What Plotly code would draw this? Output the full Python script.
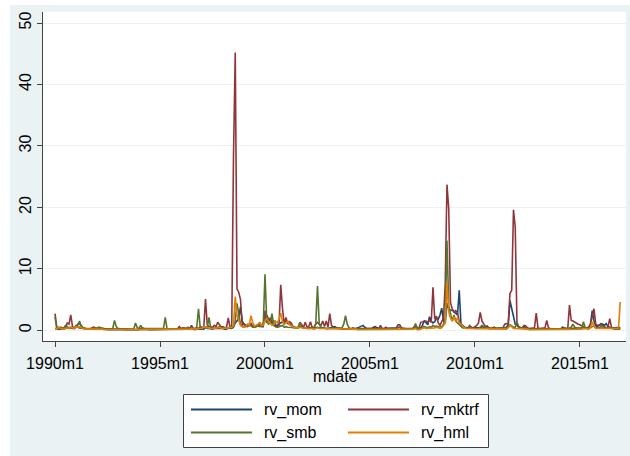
import plotly.graph_objects as go

# Stata monthly dates (%tm): 1990m1 = 360 ... 2016m12 = 683
mdate = list(range(360, 684))

tick_vals = [360, 420, 480, 540, 600, 660]
tick_text = ["1990m1", "1995m1", "2000m1", "2005m1", "2010m1", "2015m1"]
y_ticks = [0, 10, 20, 30, 40, 50]

rv_mom = [
    0.3, 0.2, 0.2, 0.2, 0.2, 0.2, 0.3, 0.4, 0.3, 0.4, 0.3, 0.3,  # 1990
    0.5, 1.0, 1.1, 0.8, 0.4, 0.3, 0.2, 0.2, 0.2, 0.2, 0.2, 0.3,  # 1991
    0.3, 0.2, 0.2, 0.2, 0.2, 0.2, 0.1, 0.1, 0.1, 0.1, 0.1, 0.1,  # 1992
    0.1, 0.1, 0.2, 0.1, 0.1, 0.1, 0.1, 0.1, 0.1, 0.1, 0.1, 0.1,  # 1993
    0.1, 0.1, 0.1, 0.1, 0.1, 0.1, 0.1, 0.1, 0.1, 0.1, 0.1, 0.1,  # 1994
    0.1, 0.1, 0.1, 0.1, 0.1, 0.1, 0.1, 0.1, 0.1, 0.1, 0.1, 0.1,  # 1995
    0.2, 0.1, 0.2, 0.2, 0.2, 0.2, 0.3, 0.2, 0.1, 0.2, 0.2, 0.2,  # 1996
    0.2, 0.2, 0.5, 0.3, 0.3, 0.2, 0.2, 0.3, 0.3, 0.4, 0.3, 0.3,  # 1997
    0.3, 0.2, 0.2, 0.4, 0.3, 0.3, 0.5, 1.2, 1.5, 2.0, 3.8, 1.5,  # 1998
    1.0, 0.8, 0.7, 0.8, 0.9, 0.7, 0.5, 0.6, 0.7, 0.9, 0.8, 1.2,  # 1999
    1.5, 2.5, 1.8, 1.5, 1.2, 1.6, 0.8, 0.8, 1.0, 1.2, 1.4, 1.0,  # 2000
    1.5, 1.2, 1.0, 1.0, 0.6, 0.5, 0.5, 0.4, 0.6, 0.5, 0.4, 0.4,  # 2001
    0.4, 0.4, 0.3, 0.3, 0.3, 0.4, 0.5, 0.4, 0.3, 0.4, 0.3, 0.3,  # 2002
    0.3, 0.4, 0.4, 0.5, 0.6, 0.4, 0.3, 0.3, 0.2, 0.2, 0.2, 0.2,  # 2003
    0.2, 0.2, 0.3, 0.3, 0.3, 0.4, 0.5, 0.6, 0.8, 0.5, 0.3, 0.3,  # 2004
    0.3, 0.3, 0.5, 0.6, 0.4, 0.3, 0.3, 0.3, 0.3, 0.4, 0.3, 0.3,  # 2005
    0.3, 0.4, 0.3, 0.4, 0.5, 0.5, 0.3, 0.3, 0.2, 0.2, 0.2, 0.2,  # 2006
    0.2, 0.3, 0.4, 0.3, 0.3, 0.4, 0.8, 1.6, 1.2, 0.9, 2.2, 1.5,  # 2007
    1.2, 1.4, 2.0, 1.8, 2.5, 3.6, 1.5, 1.2, 4.4, 3.5, 3.2, 3.3,  # 2008
    3.0, 2.8, 2.5, 6.5, 1.0, 0.8, 0.5, 0.4, 0.4, 0.4, 0.3, 0.3,  # 2009
    0.3, 0.3, 0.4, 0.4, 0.6, 0.5, 0.4, 0.3, 0.3, 0.3, 0.4, 0.3,  # 2010
    0.3, 0.3, 0.3, 0.3, 0.3, 0.4, 0.5, 0.9, 4.8, 3.6, 2.0, 1.0,  # 2011
    0.8, 0.5, 0.4, 0.4, 0.6, 0.4, 0.3, 0.2, 0.2, 0.2, 0.2, 0.2,  # 2012
    0.2, 0.2, 0.2, 0.2, 0.3, 0.3, 0.2, 0.3, 0.2, 0.2, 0.2, 0.2,  # 2013
    0.2, 0.2, 0.5, 0.4, 0.3, 0.2, 0.3, 0.3, 0.3, 0.4, 0.3, 0.3,  # 2014
    0.3, 0.3, 0.3, 0.3, 0.3, 0.4, 1.0, 3.2, 1.5, 0.8, 0.6, 0.8,  # 2015
    1.1, 1.0, 0.8, 1.1, 0.6, 0.5, 0.4, 0.3, 0.3, 0.4, 0.5, 0.3,  # 2016
]

rv_mktrf = [
    2.7, 0.6, 0.3, 0.5, 0.4, 0.3, 0.4, 1.2, 1.0, 2.5, 0.6, 0.4,  # 1990
    0.8, 0.5, 0.4, 0.3, 0.3, 0.3, 0.2, 0.2, 0.2, 0.3, 0.5, 0.4,  # 1991
    0.3, 0.2, 0.2, 0.3, 0.2, 0.2, 0.2, 0.2, 0.2, 0.2, 0.2, 0.1,  # 1992
    0.2, 0.3, 0.2, 0.2, 0.1, 0.1, 0.1, 0.1, 0.1, 0.1, 0.1, 0.1,  # 1993
    0.1, 0.3, 0.4, 0.3, 0.2, 0.2, 0.1, 0.1, 0.1, 0.2, 0.2, 0.1,  # 1994
    0.1, 0.1, 0.1, 0.1, 0.1, 0.1, 0.2, 0.1, 0.1, 0.2, 0.2, 0.6,  # 1995
    0.3, 0.4, 0.4, 0.3, 0.3, 0.3, 0.8, 0.3, 0.2, 0.4, 0.3, 0.6,  # 1996
    0.5, 0.4, 5.1, 0.9, 0.6, 0.5, 0.5, 0.8, 0.6, 1.3, 0.8, 0.5,  # 1997
    0.6, 0.4, 0.5, 2.0, 0.5, 0.7, 28.5, 45.2, 6.7, 6.2, 5.0, 0.8,  # 1998
    1.0, 0.7, 0.6, 0.9, 1.1, 0.6, 0.5, 0.8, 0.8, 1.3, 0.6, 0.6,  # 1999
    3.2, 1.2, 1.6, 2.0, 1.3, 0.8, 0.6, 0.5, 0.8, 7.4, 3.5, 1.0,  # 2000
    2.1, 1.0, 1.4, 1.2, 0.5, 0.4, 0.4, 0.5, 1.3, 0.9, 0.5, 1.3,  # 2001
    0.5, 0.6, 1.4, 0.4, 0.5, 1.0, 1.3, 1.0, 0.8, 1.5, 0.6, 1.5,  # 2002
    0.5, 2.7, 0.8, 0.5, 0.3, 0.3, 0.3, 0.2, 0.3, 0.2, 0.2, 0.2,  # 2003
    0.2, 0.2, 0.4, 0.3, 0.3, 0.2, 0.3, 0.3, 0.2, 0.2, 0.2, 0.2,  # 2004
    0.2, 0.2, 0.3, 0.4, 0.3, 0.2, 0.8, 0.2, 0.2, 0.5, 0.3, 0.2,  # 2005
    0.2, 0.2, 0.2, 0.3, 0.9, 0.9, 0.4, 0.3, 0.2, 0.2, 0.2, 0.2,  # 2006
    0.2, 0.5, 0.8, 0.3, 0.3, 1.3, 1.4, 1.4, 1.5, 1.3, 1.6, 1.3,  # 2007
    7.0, 1.8, 2.3, 1.2, 0.8, 1.4, 2.0, 7.5, 23.7, 19.8, 4.5, 3.5,  # 2008
    3.0, 3.2, 2.8, 1.5, 1.0, 0.6, 0.5, 0.4, 0.4, 0.8, 0.5, 0.4,  # 2009
    0.6, 0.8, 1.2, 2.9, 1.5, 1.0, 0.6, 0.7, 0.4, 0.3, 0.4, 0.5,  # 2010
    0.3, 0.3, 0.4, 0.3, 0.4, 1.0, 1.1, 1.0, 6.0, 6.5, 19.6, 16.8,  # 2011
    1.0, 0.6, 0.4, 0.4, 0.8, 0.7, 0.4, 0.3, 0.3, 0.3, 0.4, 2.8,  # 2012
    0.4, 0.3, 0.3, 0.3, 0.4, 1.6, 0.4, 0.3, 0.3, 0.3, 0.2, 0.2,  # 2013
    0.3, 0.3, 0.3, 0.3, 0.2, 0.2, 4.1, 1.6, 1.5, 1.3, 1.1, 1.0,  # 2014
    0.9, 0.7, 0.5, 0.4, 0.4, 0.5, 1.0, 2.5, 3.5, 1.0, 0.8, 0.8,  # 2015
    0.9, 0.8, 0.6, 0.4, 0.5, 1.9, 0.5, 0.3, 0.4, 0.4, 0.4, 0.3,  # 2016
]

rv_smb = [
    2.2, 0.3, 0.3, 0.3, 0.4, 0.4, 0.8, 0.6, 0.4, 0.5, 0.3, 0.3,  # 1990
    0.6, 0.8, 1.5, 0.6, 0.4, 0.3, 0.3, 0.3, 0.3, 0.3, 0.3, 0.3,  # 1991
    0.3, 0.5, 0.4, 0.3, 0.2, 0.2, 0.2, 0.2, 0.2, 0.3, 1.6, 0.6,  # 1992
    0.3, 0.3, 0.3, 0.2, 0.2, 0.2, 0.2, 0.2, 0.2, 0.2, 1.2, 0.4,  # 1993
    0.3, 0.8, 0.3, 0.3, 0.2, 0.2, 0.2, 0.2, 0.2, 0.2, 0.2, 0.2,  # 1994
    0.2, 0.2, 0.3, 2.1, 0.3, 0.2, 0.2, 0.2, 0.2, 0.2, 0.2, 0.3,  # 1995
    0.3, 0.2, 0.3, 0.3, 0.5, 0.3, 0.4, 0.3, 0.3, 0.5, 3.5, 0.4,  # 1996
    0.3, 0.4, 0.5, 0.4, 2.1, 0.4, 0.3, 0.4, 0.3, 0.5, 0.6, 0.4,  # 1997
    0.4, 0.3, 0.3, 0.4, 0.3, 0.4, 0.6, 1.5, 4.4, 2.5, 1.0, 0.6,  # 1998
    0.5, 0.6, 0.8, 1.0, 0.7, 0.5, 0.5, 0.6, 0.7, 0.6, 0.7, 0.8,  # 1999
    9.1, 1.5, 1.0, 1.2, 2.7, 0.8, 0.6, 0.5, 0.6, 0.7, 0.8, 0.5,  # 2000
    0.6, 0.5, 0.5, 0.4, 0.4, 0.4, 0.4, 0.4, 1.3, 0.5, 0.4, 0.3,  # 2001
    0.3, 0.3, 0.3, 0.4, 0.4, 1.0, 7.2, 1.0, 0.5, 0.4, 0.3, 0.3,  # 2002
    0.3, 0.3, 0.3, 0.3, 0.3, 0.3, 0.3, 0.3, 0.4, 1.0, 2.4, 1.0,  # 2003
    0.4, 0.3, 0.3, 0.3, 0.2, 0.2, 0.3, 0.3, 0.2, 0.2, 0.2, 0.2,  # 2004
    0.2, 0.2, 0.3, 0.3, 0.3, 0.2, 0.2, 0.2, 0.2, 0.3, 0.2, 0.2,  # 2005
    0.2, 0.2, 0.2, 0.2, 0.4, 0.5, 0.3, 0.2, 0.2, 0.2, 0.2, 0.2,  # 2006
    0.2, 0.3, 1.1, 0.4, 0.3, 0.3, 0.5, 0.6, 0.5, 0.4, 0.6, 0.5,  # 2007
    0.8, 0.6, 0.7, 0.6, 0.5, 0.6, 1.0, 2.0, 14.6, 4.0, 2.5, 1.5,  # 2008
    2.5, 1.5, 1.2, 0.9, 0.6, 0.4, 0.4, 0.3, 0.4, 0.5, 0.4, 0.3,  # 2009
    0.3, 0.3, 0.3, 0.5, 0.8, 0.6, 0.4, 0.4, 0.3, 0.3, 0.3, 0.3,  # 2010
    0.3, 0.3, 0.3, 0.3, 0.3, 0.4, 0.4, 0.6, 0.9, 0.7, 0.5, 0.5,  # 2011
    1.3, 0.6, 0.4, 0.3, 0.4, 0.3, 0.3, 0.2, 0.2, 0.2, 0.2, 0.2,  # 2012
    0.2, 0.2, 0.2, 0.2, 0.2, 0.3, 0.2, 0.2, 0.2, 0.2, 0.2, 0.2,  # 2013
    0.2, 0.2, 0.3, 0.4, 0.3, 0.2, 0.4, 0.5, 1.0, 0.5, 0.4, 0.4,  # 2014
    0.3, 0.3, 1.4, 0.4, 0.3, 0.3, 0.4, 0.6, 0.7, 0.4, 0.4, 0.4,  # 2015
    0.6, 0.5, 0.4, 0.3, 0.3, 0.4, 0.3, 0.2, 0.2, 0.2, 0.2, 0.2,  # 2016
]

rv_hml = [
    0.3, 0.2, 0.5, 0.3, 0.2, 0.2, 0.3, 0.4, 0.3, 0.5, 0.4, 0.3,  # 1990
    0.6, 0.5, 0.6, 0.4, 0.3, 0.2, 0.2, 0.2, 0.2, 0.2, 0.2, 0.2,  # 1991
    0.2, 0.2, 0.3, 0.2, 0.1, 0.1, 0.1, 0.1, 0.1, 0.1, 0.1, 0.1,  # 1992
    0.1, 0.1, 0.1, 0.1, 0.1, 0.1, 0.1, 0.1, 0.1, 0.1, 0.1, 0.1,  # 1993
    0.1, 0.2, 0.1, 0.1, 0.1, 0.1, 0.1, 0.1, 0.1, 0.1, 0.1, 0.1,  # 1994
    0.1, 0.1, 0.1, 0.1, 0.1, 0.1, 0.1, 0.1, 0.1, 0.1, 0.1, 0.2,  # 1995
    0.1, 0.2, 0.2, 0.2, 0.2, 0.2, 0.3, 0.2, 0.2, 0.2, 0.3, 0.3,  # 1996
    0.3, 0.6, 0.5, 0.4, 0.3, 0.3, 0.3, 0.3, 0.3, 0.4, 0.5, 0.3,  # 1997
    0.3, 0.3, 0.3, 0.4, 0.5, 0.5, 0.8, 5.5, 2.5, 1.5, 0.8, 0.6,  # 1998
    0.5, 0.6, 1.0, 0.8, 2.4, 1.2, 0.7, 0.8, 1.0, 1.2, 0.8, 0.9,  # 1999
    1.5, 2.0, 1.5, 1.2, 0.8, 1.0, 1.5, 1.2, 1.8, 2.8, 1.5, 1.0,  # 2000
    1.3, 1.5, 0.9, 0.8, 0.5, 0.4, 0.4, 0.4, 0.5, 0.4, 0.3, 0.4,  # 2001
    0.3, 0.3, 0.3, 0.2, 0.2, 0.3, 0.4, 0.3, 0.3, 0.3, 0.2, 0.2,  # 2002
    0.2, 0.2, 0.2, 0.2, 0.2, 0.2, 0.2, 0.2, 0.2, 0.2, 0.2, 0.2,  # 2003
    0.2, 0.2, 0.2, 0.2, 0.2, 0.1, 0.1, 0.1, 0.1, 0.1, 0.1, 0.1,  # 2004
    0.1, 0.1, 0.2, 0.2, 0.1, 0.1, 0.1, 0.1, 0.1, 0.2, 0.1, 0.1,  # 2005
    0.1, 0.1, 0.1, 0.1, 0.2, 0.2, 0.1, 0.1, 0.1, 0.1, 0.1, 0.1,  # 2006
    0.1, 0.2, 0.3, 0.1, 0.1, 0.2, 0.3, 0.4, 0.3, 0.3, 0.4, 0.3,  # 2007
    0.4, 0.4, 0.5, 0.4, 0.3, 0.4, 0.8, 1.2, 7.8, 3.0, 2.0, 1.5,  # 2008
    2.2, 1.5, 2.0, 1.2, 1.0, 0.6, 0.4, 0.3, 0.3, 0.3, 0.2, 0.2,  # 2009
    0.2, 0.2, 0.2, 0.2, 0.3, 0.3, 0.2, 0.2, 0.2, 0.2, 0.2, 0.2,  # 2010
    0.2, 0.2, 0.2, 0.2, 0.2, 0.2, 0.2, 0.4, 0.8, 0.6, 0.3, 0.3,  # 2011
    0.3, 0.2, 0.2, 0.2, 0.2, 0.2, 0.2, 0.1, 0.1, 0.1, 0.1, 0.1,  # 2012
    0.1, 0.1, 0.1, 0.1, 0.1, 0.2, 0.1, 0.1, 0.1, 0.1, 0.1, 0.1,  # 2013
    0.1, 0.1, 0.1, 0.1, 0.1, 0.1, 0.2, 0.2, 0.2, 0.2, 0.2, 0.2,  # 2014
    0.2, 0.2, 0.3, 0.3, 0.2, 0.2, 0.4, 1.4, 0.6, 0.3, 0.3, 0.3,  # 2015
    0.3, 0.3, 0.3, 0.2, 0.2, 0.3, 0.2, 0.2, 0.2, 0.2, 0.3, 4.6,  # 2016
]

series = [
    ("rv_mom", rv_mom, "#1A476F"),
    ("rv_mktrf", rv_mktrf, "#90353B"),
    ("rv_smb", rv_smb, "#55752F"),
    ("rv_hml", rv_hml, "#E37E00"),
]

W, H = 630, 456
ML, MR, MT, MB = 43, 4, 12, 115
PW, PH = W - ML - MR, H - MT - MB


def px(xp):
    return (xp - ML) / PW


def py(yp):
    return (H - MB - yp) / PH


FONT = "Liberation Sans, Arial, sans-serif"
BG = "#EAF2F3"

fig = go.Figure()
for name, vals, color in series:
    fig.add_trace(go.Scatter(x=mdate, y=vals, mode="lines", name=name,
                             line=dict(color=color, width=1.6),
                             showlegend=False))

shapes = [
    dict(type="rect", xref="paper", yref="paper", layer="below",
         x0=px(10), x1=px(W + 5), y0=py(H + 5), y1=py(5),
         fillcolor=BG, line=dict(width=0)),
    dict(type="rect", xref="paper", yref="paper", layer="below",
         x0=0, x1=1, y0=0, y1=1, fillcolor="white", line=dict(width=0)),
    # legend box
    dict(type="rect", xref="paper", yref="paper",
         x0=px(183.5), x1=px(488.5), y0=py(447.5), y1=py(394.5),
         fillcolor="white", line=dict(color="#404040", width=1)),
]
annotations = [
    dict(xref="paper", yref="paper", x=px(335.5), y=py(376), text="mdate",
         showarrow=False, xanchor="center", yanchor="middle",
         font=dict(family=FONT, size=16, color="black")),
]
legend_pos = [(191, 252, 262, 409.5), (348, 409, 419, 409.5),
              (191, 252, 262, 432.5), (348, 409, 419, 432.5)]
for (name, vals, color), (lx0, lx1, tx, ly) in zip(series, legend_pos):
    shapes.append(dict(type="line", xref="paper", yref="paper",
                       x0=px(lx0), x1=px(lx1), y0=py(ly), y1=py(ly),
                       line=dict(color=color, width=2)))
    annotations.append(dict(xref="paper", yref="paper", x=px(tx), y=py(ly),
                            text=name, showarrow=False, xanchor="left",
                            yanchor="middle",
                            font=dict(family=FONT, size=16, color="black")))

fig.update_layout(
    width=W, height=H,
    margin=dict(l=ML, r=MR, t=MT, b=MB, autoexpand=False),
    paper_bgcolor="white", plot_bgcolor="white",
    font=dict(family=FONT, size=16, color="black"),
    shapes=shapes, annotations=annotations,
    showlegend=False,
    xaxis=dict(range=[353.14, 686.3], tickvals=tick_vals, ticktext=tick_text,
               automargin=False,
               showgrid=False, zeroline=False, showline=True,
               linecolor="#444444", linewidth=1, ticks="outside", ticklen=5,
               tickcolor="#444444", ticklabelstandoff=3),
    yaxis=dict(range=[-1.74, 51.79], tickvals=y_ticks, automargin=False,
               ticktext=[str(v) for v in y_ticks], tickangle=-90,
               showgrid=True, gridcolor=BG, gridwidth=1, zeroline=False,
               showline=True, linecolor="#444444", linewidth=1,
               ticks="outside", ticklen=5, tickcolor="#444444",
               ticklabelstandoff=0),
)

fig.write_html("out.html",
               config={"displayModeBar": False},
               post_script="document.body.style.margin='0';"
                           "document.body.style.padding='0';")
